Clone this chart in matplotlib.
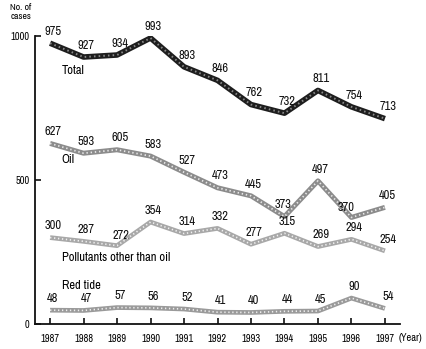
import matplotlib
matplotlib.use("Agg")
import matplotlib.pyplot as plt
from matplotlib import font_manager

years = [1987, 1988, 1989, 1990, 1991, 1992, 1993, 1994, 1995, 1996, 1997]
total = [975, 927, 934, 993, 893, 846, 762, 732, 811, 754, 713]
oil = [627, 593, 605, 583, 527, 473, 445, 373, 497, 370, 405]
pollutants = [300, 287, 272, 354, 314, 332, 277, 315, 269, 294, 254]
red_tide = [48, 47, 57, 56, 52, 41, 40, 44, 45, 90, 54]

names = {f.name for f in font_manager.fontManager.ttflist}
family = "DejaVu Sans"
for cand in ("Archivo Narrow", "Fira Sans Condensed", "Barlow Semi Condensed", "Liberation Sans"):
    if cand in names:
        family = cand
        break
plt.rcParams["font.family"] = [family, "DejaVu Sans"]

fig = plt.figure(figsize=(4.26, 3.49), dpi=100)
ax = fig.add_axes([35 / 426, 25 / 349, 365 / 426, 288 / 349])
ax.set_xlim(1986.55, 1997.45)
ax.set_ylim(0, 1000)

def braided(values, base, dots, lw):
    ax.plot(years, values, color=base, lw=lw, solid_capstyle="butt", solid_joinstyle="round", zorder=3)
    ax.plot(years, values, color=dots, lw=lw * 0.35, ls=(0, (0.8, 1.6)), zorder=4)

braided(total, "#1e1e1e", "#8a8a8a", 4.0)
braided(oil, "#8c8c8c", "#e8e8e8", 3.6)
braided(pollutants, "#a8a8a8", "#f0f0f0", 3.4)
braided(red_tide, "#9a9a9a", "#eeeeee", 3.4)

def label(values, offsets=None):
    for i, (x, v) in enumerate(zip(years, values)):
        dx, dy = (2, 8.5)
        if offsets and i in offsets:
            dx, dy = offsets[i]
        ax.annotate(str(v), (x, v), xytext=(dx, dy), textcoords="offset points",
                    ha="center", va="center", fontsize=9, color="#111111")

label(total)
label(oil, {7: (-1, 9), 9: (-4, 7)})
label(pollutants, {2: (3, 7)})
label(red_tide)

ax.text(1987.35, 880, "Total", fontsize=9, ha="left", va="center")
ax.text(1987.35, 570, "Oil", fontsize=9, ha="left", va="center")
ax.text(1987.35, 232, "Pollutants other than oil", fontsize=9, ha="left", va="center")
ax.text(1987.35, 135, "Red tide", fontsize=9, ha="left", va="center")

for s in ("top", "right"):
    ax.spines[s].set_visible(False)
for s in ("left", "bottom"):
    ax.spines[s].set_linewidth(1.3)
    ax.spines[s].set_color("#111111")

ax.set_yticks([0, 500, 1000])
ax.set_yticklabels(["0", "500", "1000"], fontsize=7.5)
ax.set_xticks(years)
ax.set_xticklabels([str(y) for y in years], fontsize=7.5)
ax.tick_params(axis="both", direction="in", length=4.5, width=1.2, color="#111111")
ax.tick_params(axis="y", pad=4)
ax.tick_params(axis="x", pad=7.5)

fig.text(399 / 426, 1 - 338 / 349, "(Year)", fontsize=7.5, ha="left", va="center")
fig.text(21 / 426, 1 - 12 / 349, "No. of\ncases", fontsize=7, ha="center", va="center", linespacing=1.0)

fig.savefig("out.png", dpi=100)
